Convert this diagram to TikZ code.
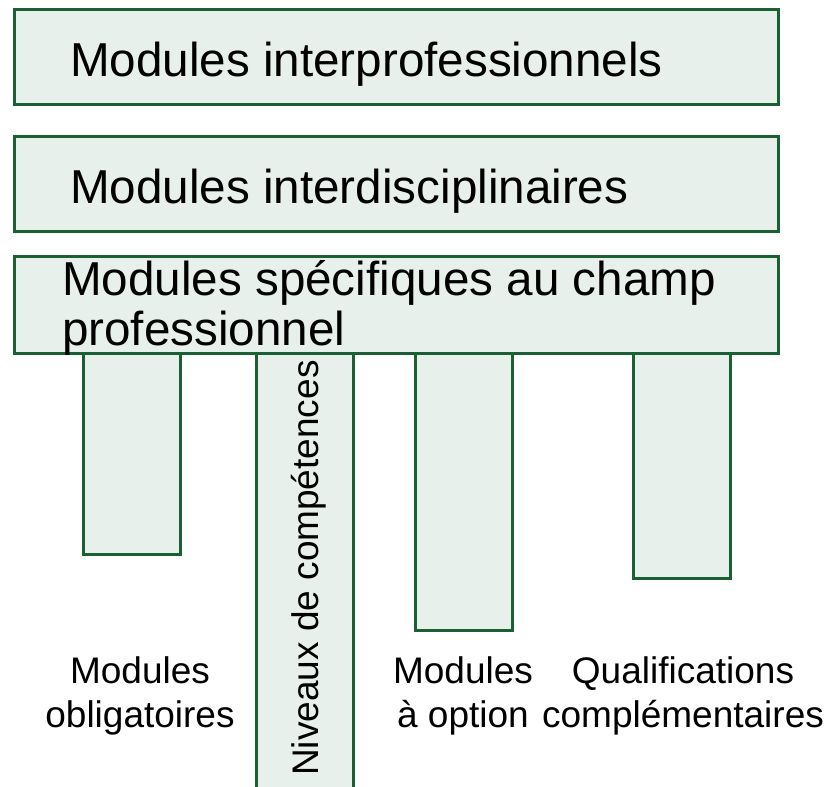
\documentclass[tikz,border=0pt]{standalone}
\usepackage{fontspec}
\setmainfont{Liberation Sans}
\definecolor{boxline}{RGB}{27,96,52}
\definecolor{boxfill}{RGB}{232,240,236}
\begin{document}
\begin{tikzpicture}[x=1pt,y=-1pt,
  panel/.style={draw=boxline,fill=boxfill,line width=3pt},
  bigtxt/.style={anchor=base west,inner sep=0pt,font=\fontsize{47.6}{55}\selectfont},
  smalltxt/.style={anchor=base,inner sep=0pt,font=\fontsize{37}{44}\selectfont}]
\useasboundingbox (0,0) rectangle (830,787);
% vertical bars
\draw[panel] (83,340) rectangle (180,554) coordinate (b1);
\draw[panel] (256,340) rectangle (353,800) coordinate (b2);
\draw[panel] (415,340) rectangle (512,630) coordinate (b3);
\draw[panel] (633,340) rectangle (730,578) coordinate (b4);
% horizontal boxes
\draw[panel] (14,9) rectangle (778,104) coordinate (h1);
\draw[panel] (14,136) rectangle (778,231) coordinate (h2);
\draw[panel] (14,256) rectangle (778,353) coordinate (h3);
% texts
\node[bigtxt] (t1) at (70,76) {Modules interprofessionnels};
\node[bigtxt] (t2) at (70,203) {Modules interdisciplinaires};
\node[bigtxt] (t3a) at (62,295) {Modules spécifiques au champ};
\node[bigtxt] (t3b) at (62,345) {professionnel};
\node[smalltxt,anchor=base west,rotate=90] (tv) at (318,776) {Niveaux de compétences};
\node[smalltxt] (l1a) at (140,683) {Modules};
\node[smalltxt] (l1b) at (140,727) {obligatoires};
\node[smalltxt] (l3a) at (463,683) {Modules};
\node[smalltxt] (l3b) at (463,727) {à option};
\node[smalltxt] (l4a) at (683,683) {Qualifications};
\node[smalltxt] (l4b) at (683,727) {complémentaires};
\end{tikzpicture}
\end{document}
